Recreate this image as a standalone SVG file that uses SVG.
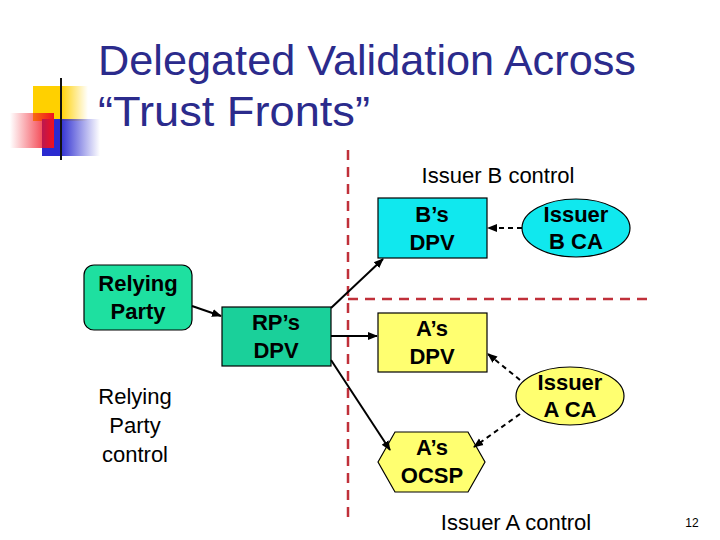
<svg xmlns="http://www.w3.org/2000/svg" width="720" height="540" viewBox="0 0 720 540">
<defs>
<style>
.t{font-family:"Liberation Sans",Arial,sans-serif}
.b{font-family:"Liberation Sans",Arial,sans-serif;font-weight:bold;font-size:22px;text-anchor:middle;fill:#000}
.n{font-family:"Liberation Sans",Arial,sans-serif;font-size:22px;fill:#000}
.s{stroke:#000;stroke-width:1.2}
.c{stroke:#000;stroke-width:2;fill:none}
.d{stroke:#000;stroke-width:2;fill:none;stroke-dasharray:5,4}
.r{stroke:#c0303a;stroke-width:2.5;fill:none;stroke-dasharray:10,7}
</style>
<marker id="a" viewBox="0 0 10 10" refX="9" refY="5" markerWidth="5" markerHeight="5" orient="auto"><path d="M0,1 L10,5 L0,9 z" fill="#000"/></marker>
<linearGradient id="gy" x1="0" x2="1"><stop offset="0.5" stop-color="#ffd000"/><stop offset="1" stop-color="#ffd000" stop-opacity="0"/></linearGradient>
<linearGradient id="gb" x1="0" x2="1"><stop offset="0.3" stop-color="#2a2ad0"/><stop offset="1" stop-color="#2a2ad0" stop-opacity="0"/></linearGradient>
<linearGradient id="gr" x1="1" x2="0"><stop offset="0" stop-color="#f01020"/><stop offset="1" stop-color="#f01020" stop-opacity="0"/></linearGradient>
<linearGradient id="gl" x1="0" x2="1"><stop offset="0" stop-color="#222"/><stop offset="1" stop-color="#bbb"/></linearGradient>
</defs>
<g id="logo">
<rect x="33" y="86" width="55" height="35" fill="url(#gy)"/>
<rect x="42" y="119" width="58" height="37" fill="url(#gb)"/>
<rect x="10" y="113" width="44" height="35" fill="url(#gr)"/>
<line x1="61" y1="78" x2="61" y2="160" stroke="#111" stroke-width="2"/>
<line x1="35" y1="141" x2="700" y2="141" stroke="url(#gl)" stroke-width="2"/>
</g>
<g id="title" class="t" fill="#2b2b8c" font-size="43">
<text x="98" y="75" textLength="538" lengthAdjust="spacingAndGlyphs">Delegated Validation Across</text>
<text x="98" y="126" textLength="272" lengthAdjust="spacingAndGlyphs">“Trust Fronts”</text>
</g>
<g id="boundaries">
<line x1="348" y1="150" x2="348" y2="522" class="r"/>
<line x1="348" y1="299" x2="650" y2="299" class="r"/>
</g>
<g id="labels">
<text x="498" y="183" class="n" text-anchor="middle">Issuer B control</text>
<text x="516" y="530" class="n" text-anchor="middle">Issuer A control</text>
<text class="n" text-anchor="middle"><tspan x="135" y="404">Relying</tspan><tspan x="135" y="433">Party</tspan><tspan x="135" y="462">control</tspan></text>
<text x="692" y="527" class="t" font-size="12" text-anchor="middle">12</text>
</g>
<g id="relying-party">
<rect x="84" y="265" width="108" height="65" rx="10" fill="#1ee0a0" class="s"/>
<text class="b"><tspan x="138" y="291">Relying</tspan><tspan x="138" y="319">Party</tspan></text>
</g>
<g id="rp-dpv">
<rect x="222" y="307" width="109" height="59" fill="#1ad09a" class="s"/>
<text class="b"><tspan x="276" y="330">RP’s</tspan><tspan x="276" y="358">DPV</tspan></text>
</g>
<g id="b-dpv">
<rect x="378" y="198" width="109" height="60" fill="#10e8ee" class="s"/>
<text class="b"><tspan x="432" y="222">B’s</tspan><tspan x="432" y="250">DPV</tspan></text>
</g>
<g id="issuer-b-ca">
<ellipse cx="576" cy="228" rx="54" ry="29" fill="#10e8ee" class="s"/>
<text class="b"><tspan x="576" y="222">Issuer</tspan><tspan x="576" y="249">B CA</tspan></text>
</g>
<g id="a-dpv">
<rect x="378" y="313" width="109" height="59" fill="#ffff70" class="s"/>
<text class="b"><tspan x="432" y="336">A’s</tspan><tspan x="432" y="364">DPV</tspan></text>
</g>
<g id="issuer-a-ca">
<ellipse cx="570" cy="396" rx="54" ry="29" fill="#ffff70" class="s"/>
<text class="b"><tspan x="570" y="390">Issuer</tspan><tspan x="570" y="417">A CA</tspan></text>
</g>
<g id="a-ocsp">
<polygon points="378,462 395,432 468,432 485,462 468,492 395,492" fill="#ffff70" class="s"/>
<text class="b"><tspan x="432" y="455">A’s</tspan><tspan x="432" y="483">OCSP</tspan></text>
</g>
<g id="connectors">
<line x1="192" y1="306" x2="221" y2="316" class="c" marker-end="url(#a)"/>
<line x1="331" y1="308" x2="383" y2="259" class="c" marker-end="url(#a)"/>
<line x1="331" y1="336" x2="377" y2="336" class="c" marker-end="url(#a)"/>
<line x1="331" y1="360" x2="390" y2="450" class="c" marker-end="url(#a)"/>
<line x1="522" y1="228" x2="488" y2="228" class="d" marker-end="url(#a)"/>
<line x1="520" y1="380" x2="488" y2="354" class="d" marker-end="url(#a)"/>
<line x1="520" y1="414" x2="474" y2="447" class="d" marker-end="url(#a)"/>
</g>
</svg>
